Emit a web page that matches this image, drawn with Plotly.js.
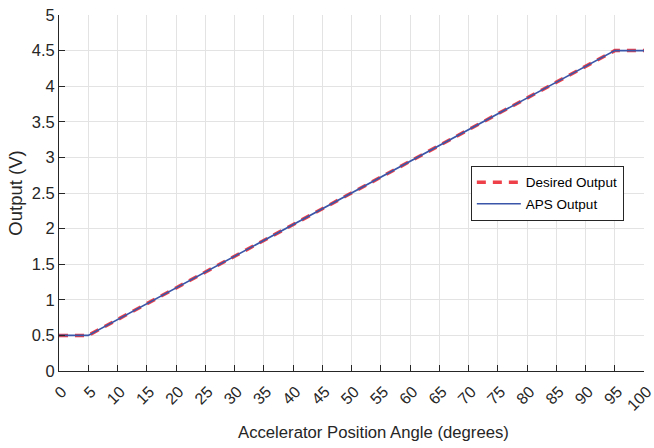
<!DOCTYPE html>
<html><head><meta charset="utf-8">
<script src="https://cdn.plot.ly/plotly-3.0.1.min.js"></script>
<style>body{margin:0;background:#fff}#c{width:654px;height:448px}</style>
</head><body><div id="c"></div>
<script>
const angle = [0, 5, 95, 100];
const desired = [0.5, 0.5, 4.5, 4.5];
const aps = [0.5, 0.5, 4.5, 4.5];
const xTicks = [0,5,10,15,20,25,30,35,40,45,50,55,60,65,70,75,80,85,90,95,100];
const yTicks = [0,0.5,1,1.5,2,2.5,3,3.5,4,4.5,5];
const xTitle = 'Accelerator Position Angle (degrees)';
const yTitle = 'Output (V)';

const data = [
  {x: angle, y: desired, mode: 'lines', name: 'Desired Output', legendgroup: 'a',
   line: {color: 'rgba(235,30,40,0.85)', width: 3.5, dash: '9px,7px'}},
  {x: angle, y: aps, mode: 'lines', name: 'APS Output', legendgroup: 'b',
   line: {color: '#3a56a8', width: 1.6}}
];
const font = {family: 'Liberation Sans, Arial, sans-serif', color: '#262626'};
const layout = {
  width: 654, height: 448,
  margin: {l: 59, r: 10, t: 15, b: 77},
  paper_bgcolor: '#fff', plot_bgcolor: '#fff',
  font: font,
  showlegend: true,
  legend: {x: 0.704, y: 0.576, xanchor: 'left', yanchor: 'top',
    bgcolor: '#fff', bordercolor: '#262626', borderwidth: 1,
    font: {family: 'Liberation Sans, Arial, sans-serif', size: 13.5, color: '#000'},
    traceorder: 'grouped', tracegroupgap: 1, itemwidth: 44},
  xaxis: {range: [0, 100], tickvals: xTicks, ticktext: xTicks.map(String),
    tickangle: -45, ticks: 'inside', ticklen: 6, tickcolor: '#262626',
    ticklabelstandoff: 4, ticklabelshift: 3, ticklabeloverflow: 'allow',
    showline: true, linecolor: '#262626', linewidth: 1, mirror: false,
    showgrid: true, gridcolor: '#e3e3e3', zeroline: false,
    tickfont: {size: 16, color: '#262626'}},
  yaxis: {range: [0, 5], tickvals: yTicks, ticktext: yTicks.map(String),
    ticks: 'inside', ticklen: 6, tickcolor: '#262626',
    showline: true, linecolor: '#262626', linewidth: 1,
    showgrid: true, gridcolor: '#e3e3e3', zeroline: false,
    tickfont: {size: 16.5, color: '#262626'},
    title: {text: yTitle, font: {size: 18.5, color: '#262626'}, standoff: 4}},
  annotations: [{text: xTitle, xref: 'paper', yref: 'paper', x: 0.5376, y: -0.174,
    xanchor: 'center', yanchor: 'middle', showarrow: false,
    font: {size: 16.7, color: '#262626'}}]
};
Plotly.newPlot('c', data, layout, {displayModeBar: false, staticPlot: true});
</script></body></html>
